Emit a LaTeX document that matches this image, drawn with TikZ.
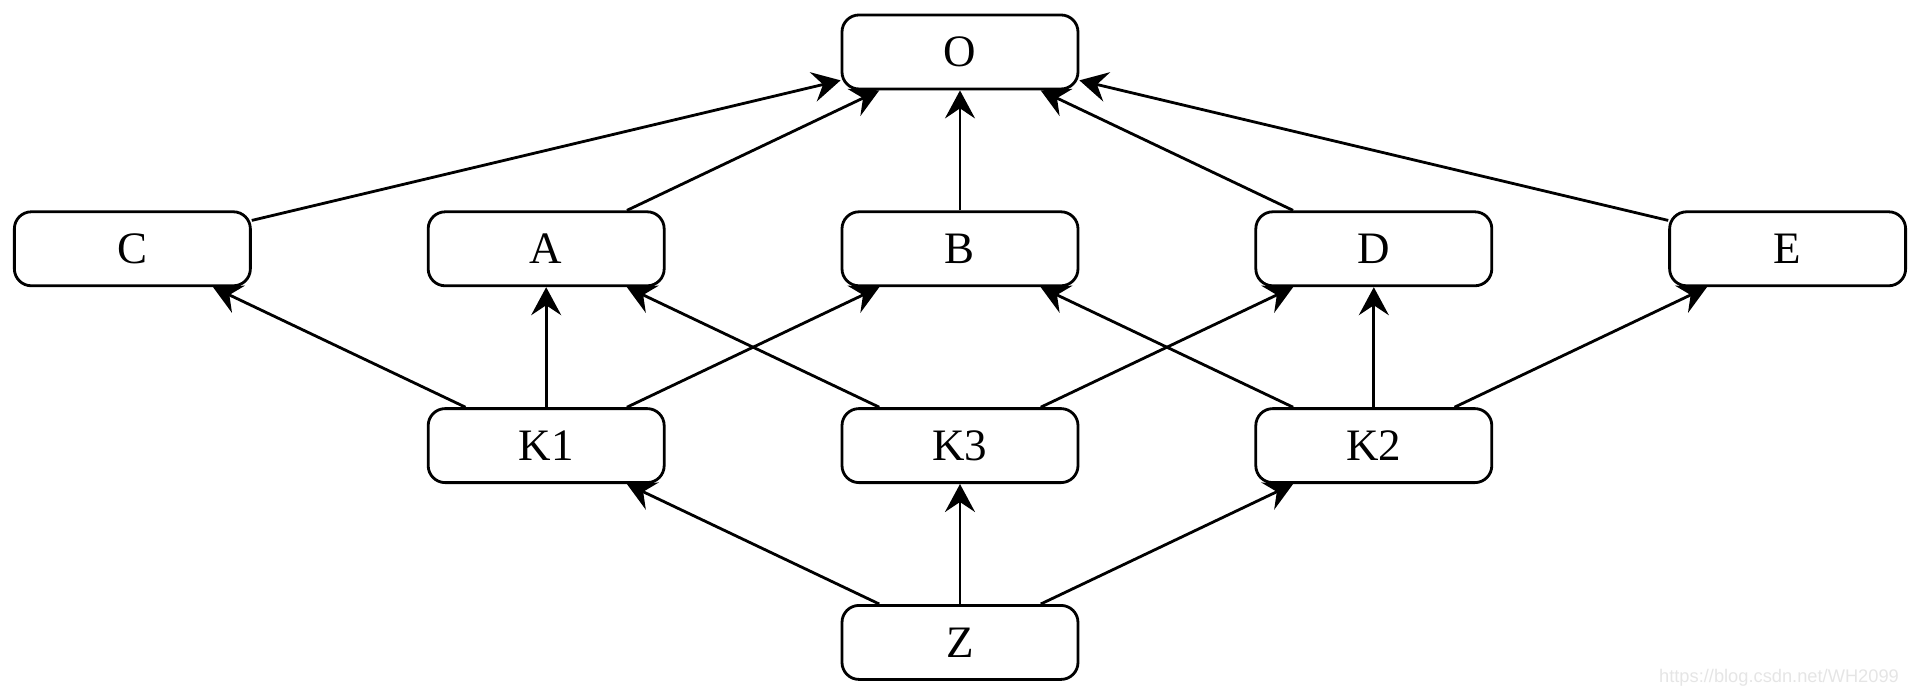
\documentclass[tikz,border=0pt]{standalone}
\usepackage{fontspec}
\setmainfont{Liberation Serif}
\newfontfamily\markfont{Liberation Sans}
\usetikzlibrary{arrows.meta, positioning}

\begin{document}
\begin{tikzpicture}[>={Stealth[length=0.28cm, width=0.3cm, inset=0.1cm]}, line width=0.8pt,
	box/.style={draw, rectangle, rounded corners=0.17cm, minimum height=0.74cm, minimum width=2.36cm, inner sep=0pt, font=\fontsize{12.8}{15}\selectfont},
	vgap/.style={below=1.2cm of #1}]
	
	\useasboundingbox (-9.60,0.52) rectangle (9.60,-6.45);
	
	% 顶层
	\node[box] (o) {O};
	
	% 第二层
	\node[box, vgap=o] (b) {B};
	\node[box, left=1.75cm of b] (a) {A};
	\node[box, left=1.75cm of a] (c) {C};
	\node[box, right=1.75cm of b] (d) {D};
	\node[box, right=1.75cm of d] (e) {E};
	
	% 第三层
	\node[box, vgap=b] (k3) {K3};
	\node[box, vgap=a] (k1) {K1};
	\node[box, vgap=d] (k2) {K2};
	
	% 底层
	\node[box, vgap=k3] (z) {Z};
	
	% 指向 O
	\draw[->] (c) -- (o);
	\draw[->] (a) -- (o);
	\draw[->] (b) -- (o);
	\draw[->] (d) -- (o);
	\draw[->] (e) -- (o);
	
	% K1, K3, K2 向上
	\draw[->] (k1) -- (c);
	\draw[->] (k1) -- (a);
	\draw[->] (k1) -- (b);
	\draw[->] (k3) -- (a);
	\draw[->] (k3) -- (d);
	\draw[->] (k2) -- (b);
	\draw[->] (k2) -- (d);
	\draw[->] (k2) -- (e);
	
	% Z 向上
	\draw[->] (z) -- (k1);
	\draw[->] (z) -- (k3);
	\draw[->] (z) -- (k2);
	
	% 水印
	\node[text=black!10, font=\markfont\fontsize{5.2}{6}\selectfont, anchor=east] (mark) at (9.52,-6.26) {https://blog.csdn.net/WH2099};
	
\end{tikzpicture}
\end{document}
